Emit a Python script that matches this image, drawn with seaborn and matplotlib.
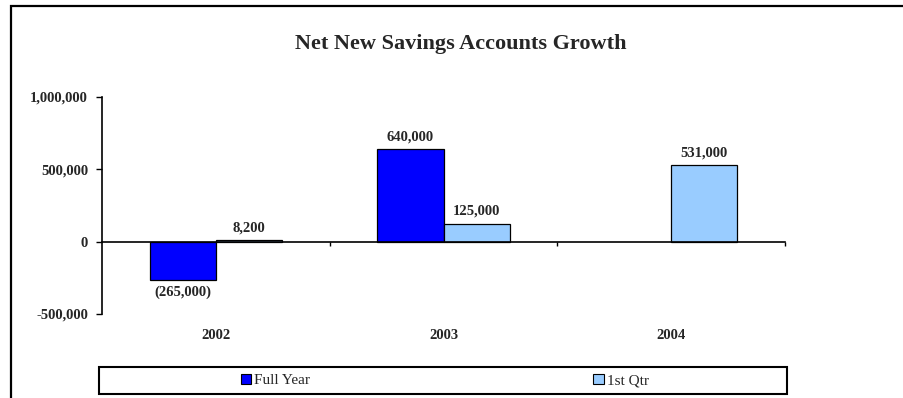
import numpy as np
import pandas as pd
import matplotlib
matplotlib.use("Agg")
import matplotlib.pyplot as plt
from matplotlib.patches import Patch, Rectangle
from matplotlib.ticker import FuncFormatter
import matplotlib.transforms as mtransforms
import seaborn as sns

# Data
years = ["2002", "2003", "2004"]
series_names = ["Full Year", "1st Qtr"]
full_year = [-265000, 640000, np.nan]
first_qtr = [8200, 125000, 531000]
colors = ["#0000FF", "#99CCFF"]
y_ticks = [-500000, 0, 500000, 1000000]

df = pd.DataFrame({
    "year": years * 2,
    "series": [series_names[0]] * 3 + [series_names[1]] * 3,
    "value": full_year + first_qtr,
})

sns.set_theme(style="white")
plt.rcParams["font.family"] = ["Liberation Serif", "DejaVu Serif"]

LABEL_FS = 10.5

fig = plt.figure(figsize=(9.04, 3.98), dpi=100)
ax = fig.add_axes([0.1128, 0.2111, 0.7556, 0.5452])

sns.barplot(data=df, x="year", y="value", hue="series", order=years,
            hue_order=series_names, palette=colors, saturation=1,
            width=0.58, gap=0, edgecolor="black", linewidth=0.9,
            legend=False, ax=ax)


def fmt_val(v):
    return f"{v:,.0f}" if v >= 0 else f"({-v:,.0f})"


for cont in ax.containers:
    ax.bar_label(cont, labels=[fmt_val(b.get_height()) for b in cont],
                 padding=4, fontsize=LABEL_FS, fontweight="bold")

# Axes styling
ax.set_ylim(-500000, 1000000)
ax.set_xlim(-0.5, 2.5)
ax.set_yticks(y_ticks)
ax.yaxis.set_major_formatter(FuncFormatter(lambda v, p: f"{v:,.0f}"))
for lbl in ax.get_yticklabels():
    lbl.set_fontweight("bold")
    lbl.set_fontsize(LABEL_FS)
ax.tick_params(axis="y", direction="out", length=4, width=1, color="black",
               pad=6, left=True)
ax.set_xticks([0.5, 1.5, 2.5])
ax.set_xticklabels([])
ax.tick_params(axis="x", direction="out", length=3, width=1, color="black",
               bottom=True)
ax.spines["bottom"].set_position(("data", 0))
for s in ["top", "right"]:
    ax.spines[s].set_visible(False)
for s in ["left", "bottom"]:
    ax.spines[s].set_color("black")
    ax.spines[s].set_linewidth(1.2)
ax.set_xlabel("")
ax.set_ylabel("")

trans = mtransforms.blended_transform_factory(ax.transData, ax.transAxes)
for i, y in enumerate(years):
    ax.text(i, -0.1, y, transform=trans, ha="center", va="center",
            fontsize=LABEL_FS, fontweight="bold")

# Title
fig.text(0.51, 0.889, "Net New Savings Accounts Growth", ha="center",
         va="center", fontsize=16, fontweight="bold")

# Legend in a box below the plot
fig.patches.append(Rectangle((0.1095, 0.01), 0.761, 0.0678,
                             transform=fig.transFigure, fill=False,
                             edgecolor="black", linewidth=1.5))
handles = [Patch(facecolor=c, edgecolor="black", linewidth=0.8) for c in colors]
fig.legend(handles, series_names, loc="center", bbox_to_anchor=(0.492, 0.044),
           ncol=2, frameon=False, fontsize=11, handlelength=0.7,
           handleheight=0.7, handletextpad=0.2, columnspacing=18.5)

# Outer frame
fig.patches.append(Rectangle((0.0122, -0.1), 1.2, 1.085,
                             transform=fig.transFigure, fill=False,
                             edgecolor="black", linewidth=1.6, clip_on=False))

fig.savefig("out.png", dpi=100)
